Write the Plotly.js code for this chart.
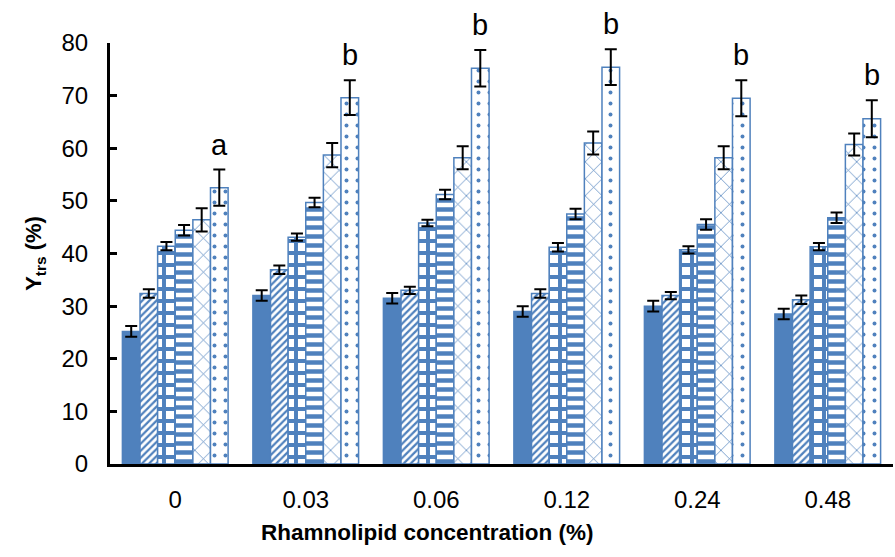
<!DOCTYPE html>
<html>
<head>
<meta charset="utf-8">
<script src="https://cdn.plot.ly/plotly-3.0.1.min.js"></script>
<style>html,body{margin:0;padding:0;background:#fff;}#chart{width:895px;height:557px;}</style>
</head>
<body>
<div id="chart"></div>
<script>
var categories = ["0", "0.03", "0.06", "0.12", "0.24", "0.48"];
var s1 = [25.2, 32.0, 31.5, 29.0, 30.0, 28.5];
var s2 = [32.4, 36.9, 33.0, 32.4, 32.0, 31.2];
var s3 = [41.4, 43.1, 45.8, 41.2, 40.7, 41.3];
var s4 = [44.4, 49.7, 51.2, 47.5, 45.5, 46.8];
var s5 = [46.4, 58.7, 58.2, 61.0, 58.2, 60.7];
var s6 = [52.5, 69.6, 75.2, 75.4, 69.5, 65.6];
var e1 = [1.0, 1.0, 1.0, 1.0, 1.0, 1.0];
var e2 = [0.8, 0.8, 0.7, 0.8, 0.7, 0.8];
var e3 = [0.8, 0.7, 0.6, 0.8, 0.7, 0.7];
var e4 = [1.0, 0.9, 0.9, 1.0, 1.0, 1.0];
var e5 = [2.2, 2.3, 2.2, 2.2, 2.2, 2.1];
var e6 = [3.45, 3.3, 3.45, 3.4, 3.4, 3.5];
var letters = ["a", "b", "b", "b", "b", "b"];
var xTitle = "<b>Rhamnolipid concentration (%)</b>";
var yTitle = "<b>Y<sub>trs</sub> (%)</b>";

var blue = "#4F81BD";
var values = [s1, s2, s3, s4, s5, s6];
var errs = [e1, e2, e3, e4, e5, e6];
var patterns = [
  {shape: ""},
  {shape: "/", size: 5, solidity: 0.45},
  {shape: "+", size: 12, solidity: 0.55},
  {shape: "-", size: 9, solidity: 0.5},
  {shape: "x", size: 12, solidity: 0.12},
  {shape: ".", size: 11, solidity: 0.1}
];
var traces = values.map(function (v, i) {
  var p = patterns[i];
  var marker = {color: i === 0 ? blue : "#ffffff", line: {color: blue, width: 1.5}};
  if (p.shape) {
    marker.pattern = {shape: p.shape, size: p.size, solidity: p.solidity, fgcolor: blue, bgcolor: "#ffffff", fillmode: "replace"};
  }
  return {
    type: "bar",
    x: categories,
    y: v,
    marker: marker,
    error_y: {type: "data", array: errs[i], visible: true, color: "#000", thickness: 2, width: 6},
    showlegend: false,
    hoverinfo: "skip"
  };
});

var bargap = 0.19;
var barW = (1 - bargap) / 6;
var lastOffset = 2.5 * barW;
var annotations = categories.map(function (c, i) {
  return {
    x: i + lastOffset, y: s6[i] + e6[i], xref: "x", yref: "y",
    text: letters[i], showarrow: false, yanchor: "bottom", yshift: 7,
    font: {family: "Liberation Sans, Arial, sans-serif", size: 29, color: "#000"}
  };
});
annotations.push({
  x: 0.406, xref: "paper", y: -0.162, yref: "paper", xanchor: "center", yanchor: "middle",
  text: xTitle, showarrow: false,
  font: {family: "Liberation Sans, Arial, sans-serif", size: 22.5, color: "#000"}
});

var layout = {
  width: 895, height: 557,
  margin: {l: 110, r: 2, t: 43, b: 93},
  paper_bgcolor: "#fff", plot_bgcolor: "#fff",
  barmode: "group", bargap: bargap, bargroupgap: 0,
  font: {family: "Liberation Sans, Arial, sans-serif", color: "#000"},
  xaxis: {
    type: "category",
    showline: true, linecolor: "#000", linewidth: 3,
    ticks: "", showgrid: false, zeroline: false,
    tickfont: {size: 24, color: "#000"},
    ticklabelstandoff: 12
  },
  yaxis: {
    range: [0, 80], dtick: 10,
    showline: true, linecolor: "#000", linewidth: 3,
    ticks: "inside", ticklen: 7, tickwidth: 3, tickcolor: "#000",
    showgrid: false, zeroline: false,
    tickfont: {size: 24, color: "#000"},
    ticklabelstandoff: 14,
    title: {text: yTitle, font: {size: 22, color: "#000"}, standoff: 14}
  },
  annotations: annotations
};

Plotly.newPlot("chart", traces, layout, {displayModeBar: false, staticPlot: true});
</script>
</body>
</html>
